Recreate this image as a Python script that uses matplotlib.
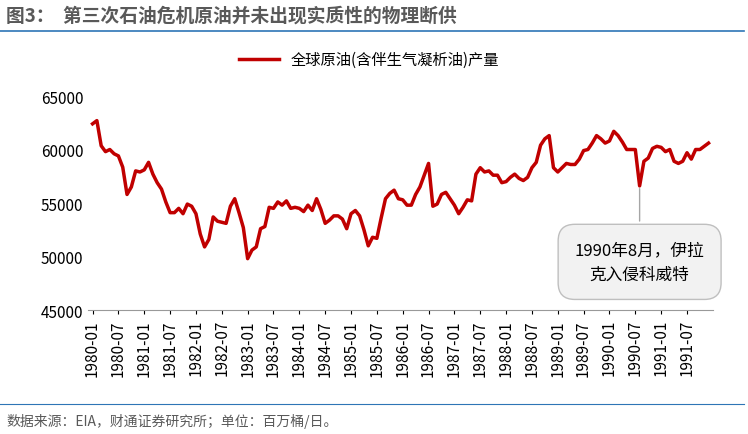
import pandas as pd
import matplotlib
matplotlib.use("Agg")
import matplotlib.pyplot as plt

plt.rcParams['font.family'] = ['Noto Sans CJK SC', 'DejaVu Sans']

title = "图3：  第三次石油危机原油并未出现实质性的物理断供"
series_name = "全球原油(含伴生气凝析油)产量"
source = "数据来源：EIA，财通证券研究所；单位：百万桶/日。"
note = "1990年8月，伊拉\n克入侵科威特"

# monthly output, 1980-01 .. 1991-12
production = [
    62400, 62700, 60350, 59800, 60000, 59600, 59400, 58350, 55800, 56500, 58000, 57900,
    58100, 58800, 57700, 56900, 56300, 55100, 54100, 54100, 54500, 54000, 54900, 54700,
    54000, 52100, 50900, 51600, 53700, 53300, 53200, 53100, 54700, 55400, 54100, 52700,
    49800, 50600, 50900, 52600, 52800, 54600, 54500, 55100, 54800, 55200, 54500, 54600,
    54500, 54200, 54800, 54300, 55400, 54400, 53100, 53400, 53800, 53800, 53500, 52600,
    54000, 54300, 53800, 52500, 51000, 51800, 51700, 53600, 55400, 55900, 56200, 55400,
    55300, 54800, 54800, 55800, 56500, 57600, 58700, 54700, 54900, 55800, 56000, 55400,
    54800, 54000, 54600, 55300, 55200, 57700, 58300, 57900, 58000, 57600, 57600, 56900,
    57000, 57400, 57700, 57300, 57100, 57400, 58300, 58800, 60400, 61000, 61300, 58300,
    57900, 58300, 58700, 58600, 58600, 59100, 59900, 60000, 60600, 61300, 61000, 60600,
    60800, 61700, 61300, 60700, 60000, 60000, 60000, 56600, 58900, 59200, 60100, 60300,
    60200, 59800, 60000, 58900, 58700, 58900, 59700, 59100, 60000, 60000, 60300, 60600,
]
months = pd.date_range("1980-01", periods=len(production), freq="MS")
tick_labels = [m.strftime("%Y-%m") for m in months[::6]]

fig = plt.figure(figsize=(7.48, 4.35), dpi=100)
fig.text(0.008, 0.962, title, fontsize=13.5, fontweight='bold', color='#595959', va='center')
fig.add_artist(plt.Line2D([0.0, 0.995], [0.926, 0.926], color='#2E75B6', lw=1.2))
fig.add_artist(plt.Line2D([0.0, 0.995], [0.069, 0.069], color='#2E75B6', lw=0.8))
fig.text(0.008, 0.03, source, fontsize=10, color='#595959', va='center')

ax = fig.add_axes([0.118, 0.285, 0.835, 0.492])
x = range(len(production))
ax.plot(x, production, color='#C00000', lw=2.5, label=series_name)
ax.set_ylim(45000, 65000)
ax.set_yticks(range(45000, 65001, 5000))
ax.set_xlim(-1, len(production))
ax.set_xticks(list(x)[::6])
ax.set_xticklabels(tick_labels, rotation=90, fontsize=11)
ax.tick_params(axis='y', labelsize=11, length=0)
ax.tick_params(axis='x', length=3)
for s in ['top', 'right', 'left']:
    ax.spines[s].set_visible(False)
ax.spines['bottom'].set_color('#999999')
ax.legend(loc='center', bbox_to_anchor=(0.45, 1.17), frameon=False, fontsize=11,
          handlelength=2.6)

dip = production.index(min(production[100:]))
ax.annotate(note, xy=(dip, production[dip]), xytext=(dip, 49500),
            ha='center', va='center', fontsize=12, linespacing=1.6,
            bbox=dict(boxstyle='round,pad=1.0', fc='#F2F2F2', ec='#BFBFBF'),
            arrowprops=dict(arrowstyle='-', color='#A6A6A6', lw=1))

fig.savefig("out.png", dpi=100)
